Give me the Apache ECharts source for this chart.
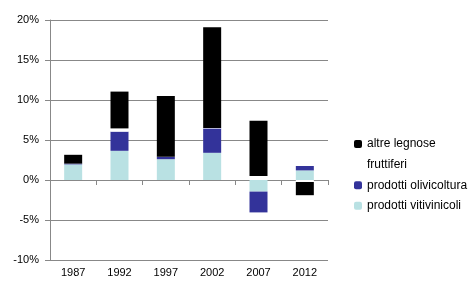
<!DOCTYPE html>
<html><head><meta charset="utf-8">
<script src="https://cdn.jsdelivr.net/npm/echarts@6/dist/echarts.min.js"></script>
<style>html,body{margin:0;padding:0;background:#fff}#c{width:469px;height:282px}</style>
</head><body><div id="c"></div>
<script>
const categories = ['1987','1992','1997','2002','2007','2012'];
const vitivinicoli = [1.95, 3.65, 2.6, 3.4, -1.45, 1.2];
const olivicoltura = [0.1, 2.4, 0.3, 3.05, -2.6, 0.55];
const fruttiferi = [0, 0.4, 0, 0.05, 0.5, -0.25];
const altreLegnose = [1.1, 4.6, 7.6, 12.6, 6.9, -1.65];
const yTicks = {min: -10, max: 20, step: 5};

const chart = echarts.init(document.getElementById('c'), null, {renderer: 'canvas'});
const font = 'Liberation Sans, Arial, sans-serif';
const mk = (name, data, color) => ({
  name, type: 'bar', stack: 's', data, barWidth: 18, xAxisIndex: 0,
  itemStyle: {color}, emphasis: {disabled: true}
});
chart.setOption({
  animation: false,
  grid: {left: 50, right: 141, top: 20, bottom: 22},
  legend: {
    orient: 'vertical', left: 349, top: 132, itemWidth: 8, itemHeight: 8, itemGap: 6.6,
    data: ['altre legnose', 'fruttiferi', 'prodotti olivicoltura', 'prodotti vitivinicoli'],
    textStyle: {fontFamily: font, fontSize: 12, color: '#000', lineHeight: 14}
  },
  xAxis: [{
    type: 'category', data: categories, axisLine: {onZero: true, lineStyle: {color: '#888', width: 1}},
    axisTick: {show: true, length: 5, lineStyle: {color: '#888'}}, axisLabel: {show: false}
  }, {
    type: 'category', data: categories, position: 'bottom',
    axisLine: {show: false, onZero: false}, axisTick: {show: false},
    axisLabel: {fontFamily: font, fontSize: 11, color: '#000', margin: 7}
  }],
  yAxis: {
    type: 'value', min: yTicks.min, max: yTicks.max, interval: yTicks.step,
    axisLine: {show: true, lineStyle: {color: '#888'}},
    axisTick: {show: true, length: 5, lineStyle: {color: '#888'}},
    splitLine: {lineStyle: {color: '#888', width: 1}},
    axisLabel: {formatter: '{value}%', fontFamily: font, fontSize: 11, color: '#000', margin: 11}
  },
  series: [
    mk('prodotti vitivinicoli', vitivinicoli, '#b9e1e3'),
    mk('prodotti olivicoltura', olivicoltura, '#33339a'),
    mk('fruttiferi', fruttiferi, '#ffffff'),
    mk('altre legnose', altreLegnose, '#000000')
  ]
});
</script></body></html>
